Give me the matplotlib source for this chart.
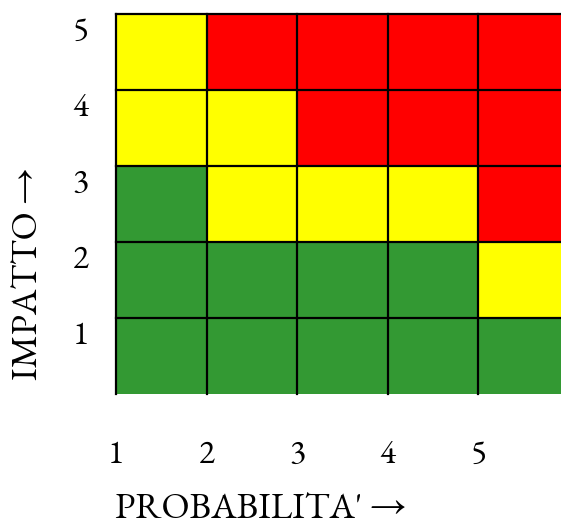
import matplotlib
matplotlib.use("Agg")
import matplotlib.pyplot as plt
import numpy as np
from matplotlib.colors import ListedColormap

prob_labels = ["1", "2", "3", "4", "5"]
impact_labels = ["1", "2", "3", "4", "5"]
# risk level per cell: 0 = green, 1 = yellow, 2 = red; rows = impact 1..5, cols = probability 1..5
risk_impact1 = [0, 0, 0, 0, 0]
risk_impact2 = [0, 0, 0, 0, 1]
risk_impact3 = [0, 1, 1, 1, 2]
risk_impact4 = [1, 1, 2, 2, 2]
risk_impact5 = [1, 2, 2, 2, 2]
level_colors = ["#339933", "#FFFF00", "#FF0000"]

grid = np.array([risk_impact1, risk_impact2, risk_impact3, risk_impact4, risk_impact5])

W, H = 561, 525
fig = plt.figure(figsize=(W / 100, H / 100), dpi=100)
fam = ["EB Garamond", "Liberation Serif", "DejaVu Serif"]

left, right, top, bottom = 116, 569, 14, 394
ax = fig.add_axes([left / W, 1 - bottom / H, (right - left) / W, (bottom - top) / H])
ax.pcolormesh(np.arange(6), np.arange(6), grid, cmap=ListedColormap(level_colors),
              vmin=-0.5, vmax=2.5, shading="flat")
ax.set_xlim(0, 5)
ax.set_ylim(0, 5)
for s in ax.spines.values():
    s.set_visible(False)
ax.set_xticks([])
ax.set_yticks([])
for x in range(5):
    ax.axvline(x, color="black", lw=1.6, clip_on=False)
for y in range(1, 6):
    ax.axhline(y, color="black", lw=1.6, clip_on=False)

for i, lab in enumerate(prob_labels):
    ax.text(i, -0.82, lab, ha="center", va="center", fontsize=24, family=fam,
            clip_on=False)
for j, lab in enumerate(impact_labels):
    ax.text(-0.39, j + 0.75, lab, ha="center", va="center", fontsize=24, family=fam,
            clip_on=False)

fig.text(261 / W, 1 - 510 / H, "PROBABILITA' \u2192", ha="center", va="center",
         fontsize=26.5, family=fam)
fig.text(30 / W, 1 - 274 / H, "IMPATTO \u2192", ha="center", va="center",
         fontsize=26.5, family=fam, rotation=90)

fig.savefig("out.png", dpi=100)
